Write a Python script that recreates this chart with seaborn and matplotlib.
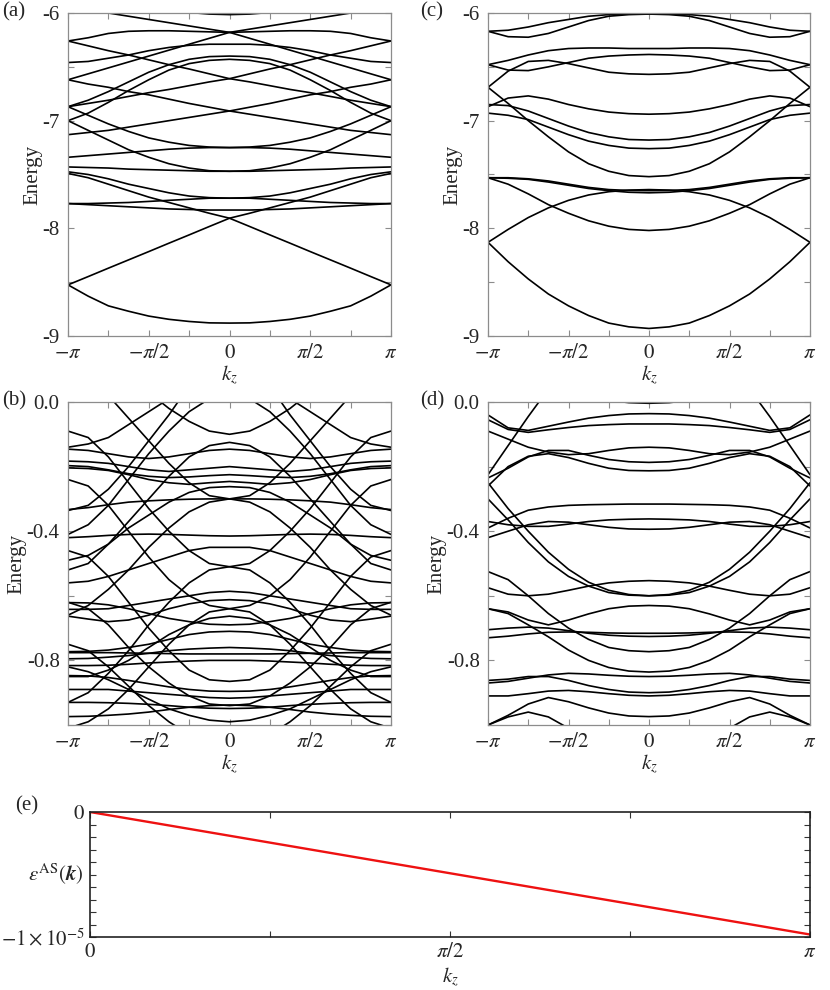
import numpy as np
import pandas as pd
import matplotlib
matplotlib.use("Agg")
import matplotlib.pyplot as plt
import seaborn as sns

# k grid on the half zone [0, pi]; bands are mirrored to [-pi, 0]
k_half = np.linspace(0, np.pi, 9)

# (a) energies at k = 0, pi/8, ..., pi
bands_a = [
    [-8.88, -8.878, -8.865, -8.845, -8.815, -8.77, -8.72, -8.63, -8.525],
    [-7.906, -7.983, -8.061, -8.138, -8.216, -8.293, -8.370, -8.448, -8.525],
    [-7.906, -7.86, -7.81, -7.76, -7.71, -7.65, -7.59, -7.53, -7.49],
    [-7.72, -7.715, -7.70, -7.67, -7.63, -7.59, -7.54, -7.50, -7.475],
    [-7.72, -7.72, -7.73, -7.74, -7.75, -7.76, -7.765, -7.77, -7.77],
    [-7.83, -7.83, -7.825, -7.82, -7.81, -7.80, -7.79, -7.78, -7.77],
    [-7.47, -7.47, -7.465, -7.46, -7.455, -7.45, -7.44, -7.435, -7.43],
    [-7.47, -7.465, -7.44, -7.40, -7.34, -7.27, -7.18, -7.09, -7.00],
    [-7.25, -7.245, -7.23, -7.20, -7.16, -7.10, -7.03, -6.95, -6.87],
    [-7.25, -7.25, -7.255, -7.265, -7.28, -7.295, -7.31, -7.325, -7.34],
    [-6.91, -6.94, -6.97, -7.00, -7.03, -7.06, -7.09, -7.11, -7.13],
    [-6.91, -6.875, -6.84, -6.80, -6.76, -6.73, -6.69, -6.66, -6.62],
    [-6.61, -6.565, -6.52, -6.48, -6.435, -6.39, -6.35, -6.305, -6.26],
    [-6.61, -6.64, -6.675, -6.71, -6.74, -6.775, -6.81, -6.84, -6.87],
    [-6.40, -6.405, -6.43, -6.48, -6.55, -6.64, -6.73, -6.81, -6.87],
    [-6.43, -6.44, -6.47, -6.53, -6.62, -6.72, -6.83, -6.93, -7.00],
    [-6.29, -6.29, -6.30, -6.32, -6.35, -6.39, -6.42, -6.45, -6.46],
    [-6.18, -6.175, -6.17, -6.165, -6.165, -6.17, -6.19, -6.23, -6.26],
    [-6.18, -6.15, -6.12, -6.09, -6.06, -6.03, -6.00, -5.97, -5.94],
    [-6.18, -6.235, -6.29, -6.345, -6.40, -6.455, -6.51, -6.565, -6.62],
    [-6.015, -6.01, -5.995, -5.97, -5.94, -5.90, -5.86, -5.82, -5.78],
]

# (c)
bands_c = [
    [-8.93, -8.915, -8.88, -8.81, -8.72, -8.61, -8.47, -8.31, -8.13],
    [-8.02, -8.01, -7.98, -7.93, -7.86, -7.78, -7.68, -7.59, -7.53],
    [-7.64, -7.645, -7.66, -7.69, -7.74, -7.81, -7.90, -8.01, -8.13],
    [-7.67, -7.665, -7.65, -7.63, -7.60, -7.57, -7.545, -7.535, -7.53],
    [-7.65, -7.648, -7.64, -7.62, -7.59, -7.56, -7.54, -7.53, -7.53],
    [-7.52, -7.51, -7.47, -7.40, -7.29, -7.15, -7.00, -6.84, -6.69],
    [-7.26, -7.255, -7.23, -7.19, -7.13, -7.06, -6.99, -6.95, -6.93],
    [-7.18, -7.175, -7.15, -7.11, -7.05, -6.98, -6.91, -6.86, -6.85],
    [-6.94, -6.935, -6.92, -6.89, -6.85, -6.80, -6.77, -6.79, -6.87],
    [-6.57, -6.565, -6.55, -6.51, -6.47, -6.44, -6.45, -6.54, -6.69],
    [-6.385, -6.39, -6.40, -6.42, -6.46, -6.50, -6.535, -6.53, -6.48],
    [-6.33, -6.33, -6.325, -6.325, -6.33, -6.35, -6.39, -6.44, -6.48],
    [-6.01, -6.01, -6.015, -6.03, -6.06, -6.09, -6.13, -6.16, -6.17],
    [-6.01, -6.015, -6.03, -6.07, -6.13, -6.19, -6.225, -6.22, -6.17],
]

# (b)
bands_b = [
    [-0.30, -0.29, -0.25, -0.19, -0.12, -0.05, 0.02, 0.08, 0.10],
    [-0.51, -0.50, -0.46, -0.40, -0.33, -0.25, -0.17, -0.11, -0.09],
    [-0.64, -0.63, -0.60, -0.55, -0.48, -0.40, -0.32, -0.26, -0.24],
    [-0.865, -0.86, -0.83, -0.77, -0.70, -0.62, -0.54, -0.48, -0.46],
    [-0.94, -0.935, -0.91, -0.87, -0.82, -0.76, -0.69, -0.64, -0.62],
    [-1.06, -1.05, -1.03, -0.99, -0.94, -0.88, -0.82, -0.77, -0.75],
    [-0.10, -0.09, -0.06, -0.02, 0.03, 0.08, 0.12, 0.15, 0.16],
    [-0.30, -0.31, -0.34, -0.39, -0.45, -0.52, -0.58, -0.63, -0.66],
    [-0.51, -0.52, -0.56, -0.62, -0.69, -0.77, -0.84, -0.90, -0.93],
    [-0.125, -0.135, -0.17, -0.23, -0.30, -0.37, -0.44, -0.50, -0.52],
    [0.02, 0.01, -0.03, -0.09, -0.16, -0.24, -0.32, -0.38, -0.41],
    [-0.64, -0.65, -0.69, -0.75, -0.82, -0.89, -0.95, -0.99, -1.01],
    [-0.300, -0.300, -0.301, -0.303, -0.306, -0.31, -0.318, -0.327, -0.333],
    [-0.415, -0.414, -0.412, -0.41, -0.409, -0.41, -0.413, -0.417, -0.42],
    [-0.146, -0.15, -0.16, -0.17, -0.175, -0.17, -0.16, -0.15, -0.146],
    [-0.20, -0.205, -0.21, -0.215, -0.21, -0.20, -0.19, -0.185, -0.183],
    [-0.225, -0.228, -0.232, -0.234, -0.23, -0.222, -0.21, -0.20, -0.197],
    [-0.246, -0.25, -0.255, -0.25, -0.24, -0.225, -0.212, -0.206, -0.204],
    [-0.262, -0.265, -0.28, -0.31, -0.35, -0.39, -0.44, -0.475, -0.49],
    [-0.586, -0.59, -0.60, -0.61, -0.62, -0.63, -0.64, -0.642, -0.642],
    [-0.612, -0.615, -0.625, -0.64, -0.66, -0.675, -0.68, -0.672, -0.663],
    [-0.69, -0.688, -0.68, -0.67, -0.655, -0.64, -0.628, -0.622, -0.621],
    [-0.71, -0.712, -0.72, -0.735, -0.75, -0.76, -0.768, -0.772, -0.773],
    [-0.76, -0.762, -0.765, -0.77, -0.778, -0.785, -0.79, -0.794, -0.795],
    [-0.78, -0.78, -0.78, -0.779, -0.778, -0.777, -0.776, -0.776, -0.776],
    [-0.80, -0.80, -0.802, -0.805, -0.808, -0.812, -0.815, -0.816, -0.816],
    [-0.896, -0.895, -0.89, -0.882, -0.872, -0.862, -0.853, -0.848, -0.847],
    [-0.917, -0.915, -0.91, -0.905, -0.90, -0.895, -0.89, -0.89, -0.89],
    [-0.938, -0.94, -0.945, -0.952, -0.96, -0.966, -0.97, -0.973, -0.974],
    [-0.949, -0.948, -0.945, -0.94, -0.936, -0.933, -0.931, -0.93, -0.93],
    [-0.99, -0.985, -0.97, -0.95, -0.92, -0.89, -0.86, -0.835, -0.82],
    [-0.663, -0.67, -0.69, -0.72, -0.76, -0.80, -0.83, -0.85, -0.85],
    [0.08, 0.07, 0.05, 0.01, -0.03, -0.07, -0.11, -0.13, -0.14],
    [0.15, 0.12, 0.05, -0.04, -0.12, -0.20, -0.27, -0.32, -0.336],
    [-0.45, -0.45, -0.46, -0.48, -0.50, -0.52, -0.54, -0.555, -0.56],
]

# (d)
bands_d = [
    [-0.004, -0.002, 0.005, 0.02, 0.04, 0.06, 0.08, 0.10, 0.12],
    [-0.036, -0.037, -0.042, -0.050, -0.062, -0.075, -0.088, -0.080, -0.040],
    [-0.068, -0.068, -0.070, -0.073, -0.079, -0.086, -0.094, -0.085, -0.055],
    [-0.140, -0.142, -0.150, -0.160, -0.163, -0.155, -0.140, -0.115, -0.090],
    [-0.187, -0.185, -0.178, -0.165, -0.150, -0.150, -0.170, -0.205, -0.235],
    [-0.213, -0.212, -0.205, -0.190, -0.172, -0.160, -0.168, -0.200, -0.260],
    [0.450, 0.420, 0.350, 0.250, 0.130, 0.040, -0.045, -0.135, -0.225],
    [-0.316, -0.316, -0.317, -0.318, -0.320, -0.325, -0.335, -0.360, -0.390],
    [-0.362, -0.363, -0.365, -0.370, -0.378, -0.385, -0.385, -0.380, -0.370],
    [-0.394, -0.393, -0.388, -0.380, -0.372, -0.370, -0.380, -0.400, -0.420],
    [-0.553, -0.555, -0.560, -0.570, -0.583, -0.595, -0.600, -0.595, -0.575],
    [-0.600, -0.598, -0.590, -0.570, -0.540, -0.495, -0.435, -0.365, -0.300],
    [-0.600, -0.596, -0.583, -0.558, -0.518, -0.465, -0.400, -0.330, -0.250],
    [-0.630, -0.632, -0.640, -0.656, -0.675, -0.690, -0.675, -0.650, -0.640],
    [-0.716, -0.716, -0.715, -0.713, -0.712, -0.713, -0.718, -0.725, -0.730],
    [-0.726, -0.725, -0.722, -0.716, -0.708, -0.700, -0.697, -0.700, -0.705],
    [-0.773, -0.770, -0.760, -0.735, -0.700, -0.655, -0.600, -0.550, -0.525],
    [-0.836, -0.833, -0.822, -0.800, -0.768, -0.727, -0.690, -0.655, -0.640],
    [-0.850, -0.849, -0.846, -0.842, -0.840, -0.845, -0.855, -0.865, -0.870],
    [-0.900, -0.898, -0.890, -0.878, -0.862, -0.850, -0.850, -0.858, -0.862],
    [-0.910, -0.908, -0.903, -0.897, -0.893, -0.895, -0.903, -0.910, -0.910],
    [-0.974, -0.972, -0.963, -0.947, -0.928, -0.915, -0.935, -0.970, -1.000],
    [-1.100, -1.090, -1.070, -1.040, -1.010, -0.975, -0.960, -0.975, -1.000],
]

# (e) antisymmetric part
k_e = [0, np.pi / 4, np.pi / 2, 3 * np.pi / 4, np.pi]
eps_as = [0.0, -0.245e-5, -0.49e-5, -0.735e-5, -0.98e-5]

k_ticks = [-np.pi, -np.pi / 2, 0, np.pi / 2, np.pi]
k_labels = [r'$-\pi$', r'$-\pi/2$', r'$0$', r'$\pi/2$', r'$\pi$']


def to_long(bands):
    k_full = np.concatenate([-k_half[::-1], k_half[1:]])
    rows = []
    for i, b in enumerate(bands):
        b = np.asarray(b)
        e_full = np.concatenate([b[::-1], b[1:]])
        rows.append(pd.DataFrame({'k': k_full, 'E': e_full, 'band': i}))
    return pd.concat(rows, ignore_index=True)


sns.set_theme(style='ticks')
plt.rcParams['font.family'] = ['Liberation Serif', 'DejaVu Serif']
plt.rcParams['mathtext.fontset'] = 'stix'
plt.rcParams['axes.unicode_minus'] = True

fig = plt.figure(figsize=(8.3, 9.9), dpi=100)
grey = '#8c8c8c'
fs = 15


def style_band_axes(ax, ylim, yticks, ylabels, yminor):
    ax.set_xlim(-np.pi, np.pi)
    ax.set_ylim(*ylim)
    ax.set_xticks(k_ticks)
    ax.set_xticklabels(k_labels, fontsize=fs)
    ax.set_xticks([-3 * np.pi / 4, -np.pi / 4, np.pi / 4, 3 * np.pi / 4], minor=True)
    ax.set_yticks(yticks)
    ax.set_yticklabels(ylabels, fontsize=fs)
    ax.set_yticks(yminor, minor=True)
    ax.tick_params(which='both', direction='in', top=True, right=True,
                   color=grey, length=4, width=0.8)
    ax.tick_params(axis='x', pad=6)
    ax.tick_params(axis='y', pad=6)
    for s in ax.spines.values():
        s.set_color(grey)
        s.set_linewidth(0.9)
    ax.set_xlabel(r'$k_z$', fontsize=fs, labelpad=0)
    ax.set_ylabel('Energy', fontsize=fs, labelpad=0)


W, H = 830, 990
panels = [
    ('(a)', bands_a, (68, 13, 391, 336), (-9, -6), [-9, -8, -7, -6], ['-9', '-8', '-7', '-6'], [-8.5, -7.5, -6.5], 2),
    ('(c)', bands_c, (488, 13, 810, 336), (-9, -6), [-9, -8, -7, -6], ['-9', '-8', '-7', '-6'], [-8.5, -7.5, -6.5], 420),
    ('(b)', bands_b, (68, 402, 391, 725), (-1.0, 0.0), [-0.8, -0.4, 0.0], ['-0.8', '-0.4', '0.0'], [-1.0, -0.6, -0.2], 2),
    ('(d)', bands_d, (488, 402, 810, 725), (-1.0, 0.0), [-0.8, -0.4, 0.0], ['-0.8', '-0.4', '0.0'], [-1.0, -0.6, -0.2], 420),
]

for tag, bands, (x0, y0, x1, y1), ylim, yt, yl, ym, tx in panels:
    ax = fig.add_axes([x0 / W, 1 - y1 / H, (x1 - x0) / W, (y1 - y0) / H])
    df = to_long(bands)
    sns.lineplot(data=df, x='k', y='E', units='band', estimator=None, sort=False,
                 color='black', linewidth=1.2, ax=ax)
    style_band_axes(ax, ylim, yt, yl, ym)
    fig.text(tx / W, 1 - (y0 - 1) / H, tag, fontsize=fs, va='center', ha='left')

# panel (e)
ax_e = fig.add_axes([90 / W, 1 - 937 / H, 720 / W, 125 / H])
df_e = pd.DataFrame({'k': k_e, 'eps': eps_as})
sns.lineplot(data=df_e, x='k', y='eps', color='#ee1111', linewidth=1.7, ax=ax_e)
ax_e.set_xlim(0, np.pi)
ax_e.set_ylim(-1e-5, 0)
ax_e.set_xticks([0, np.pi / 2, np.pi])
ax_e.set_xticklabels([r'$0$', r'$\pi/2$', r'$\pi$'], fontsize=fs)
ax_e.set_xticks([np.pi / 4, 3 * np.pi / 4], minor=True)
ax_e.set_yticks([-1e-5, 0])
ax_e.set_yticklabels([r'$-1\times10^{-5}$', r'$0$'], fontsize=fs)
ax_e.set_yticks(np.arange(1, 10) * -1e-6, minor=True)
ax_e.tick_params(which='both', direction='in', top=True, right=True,
                 color='#333333', length=4, width=0.8, pad=4)
for s in ax_e.spines.values():
    s.set_color('#222222')
    s.set_linewidth(1.2)
ax_e.set_xlabel(r'$k_z$', fontsize=fs, labelpad=3)
ax_e.set_ylabel(r'$\varepsilon^{\mathrm{AS}}(\mathbfit{k})$', fontsize=fs, rotation=0,
                ha='center', va='center')
ax_e.yaxis.set_label_coords(-0.048, 0.5)
fig.text(15 / W, 1 - 806 / H, '(e)', fontsize=fs, va='center', ha='left')

fig.savefig('out.png', dpi=100)
